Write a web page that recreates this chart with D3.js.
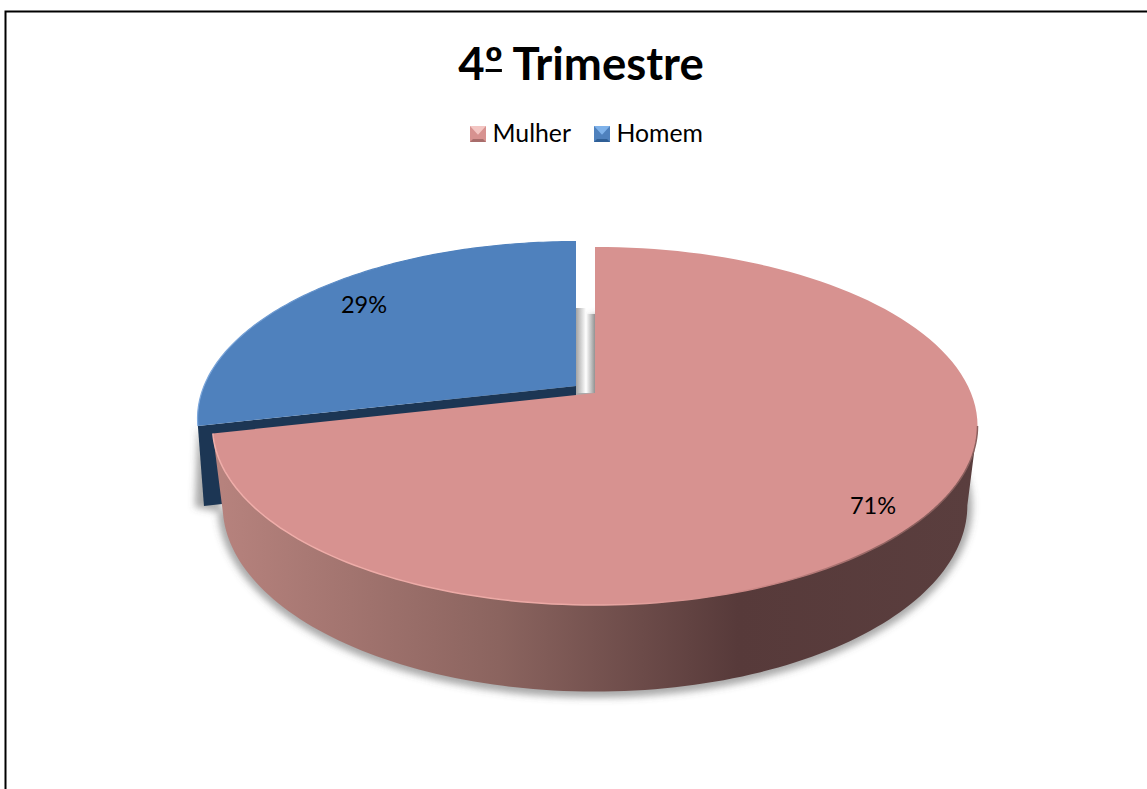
<!DOCTYPE html>
<html>
<head>
<meta charset="utf-8">
<script src="https://cdn.jsdelivr.net/npm/d3@7"></script>
<style>
  html, body { margin: 0; padding: 0; background: #fff; }
  svg { display: block; }
  text { font-family: Lato, "Open Sans", sans-serif; fill: #000; }
</style>
</head>
<body>
<div id="chart"></div>
<script>
const chartTitle = "4º Trimestre";
const categories = ["Mulher", "Homem"];
const shares = [71.4, 28.6];
const faceColors = ["#d79290", "#4f81bd"];
const wallDark = "#1c3654";
const swatchTop = ["#f3c6c3", "#7fb2ea"];
const swatchBottom = ["#a86d6b", "#2f5f96"];

const width = 1147,
  height = 789;

// perspective of the disc: k tilts it, top and bottom are the two caps
const k = 0.184,
  topCap = { B: 376, A: 173, dy: 0 },
  homemCap = { B: 372, A: 171, dy: 0 },
  bottomCap = { B: 366, A: 180, dy: 78 };

const origins = {
  Mulher: { x: 595, y: 393 },
  Homem: { x: 576, y: 386 }
};

const svg = d3
  .select("#chart")
  .append("svg")
  .attr("width", width)
  .attr("height", height);

const defs = svg.append("defs");

defs
  .append("filter")
  .attr("id", "soft")
  .attr("x", "-10%")
  .attr("y", "-10%")
  .attr("width", "120%")
  .attr("height", "120%")
  .append("feGaussianBlur")
  .attr("stdDeviation", 3.5);

function gradient(id, x1, x2, stops) {
  defs
    .append("linearGradient")
    .attr("id", id)
    .attr("gradientUnits", "userSpaceOnUse")
    .attr("x1", x1)
    .attr("x2", x2)
    .attr("y1", 0)
    .attr("y2", 0)
    .selectAll("stop")
    .data(stops)
    .enter()
    .append("stop")
    .attr("offset", d => d[0])
    .attr("stop-color", d => d[1]);
}

gradient("wall", 222, 970, [
  [0, "#b6827d"],
  [0.37, "#8b645f"],
  [0.69, "#573a3a"],
  [1, "#5a3e3e"]
]);
gradient("rim", 216, 978, [
  [0, "#f0aeaa"],
  [0.5, "#eba8a4"],
  [0.72, "#c98583"],
  [0.9, "#8a5f5d"],
  [1, "#8a5f5d"]
]);
gradient("homemRim", 197, 400, [
  [0, "#7ea8dc"],
  [1, "#4f81bd"]
]);
gradient("gapLeft", origins.Homem.x, origins.Homem.x + 10, [
  [0, "#a3a3a3"],
  [1, "#fff"]
]);
gradient("gapRight", origins.Mulher.x - 9, origins.Mulher.x, [
  [0, "#fff"],
  [1, "#929292"]
]);

function project(t, origin, cap) {
  const w = 1 + k * Math.cos(t);
  return [
    origin.x + (cap.B * Math.sin(t)) / w,
    origin.y + cap.dy - (cap.A * Math.cos(t)) / w
  ];
}

function arcPoints(t0, t1, origin, cap) {
  const n = 120;
  return d3.range(n + 1).map(i => project(t0 + ((t1 - t0) * i) / n, origin, cap));
}

const path = d3.line();

const pie = d3.pie().sort(null);
const slices = pie(shares);
const mulher = slices[0],
  homem = slices[1];

const extremeRight = Math.acos(-k);

// soft shadow under the walls
const shadow = svg.append("g").attr("filter", "url(#soft)");
const grown = { B: bottomCap.B + 5, A: bottomCap.A + 5, dy: bottomCap.dy };
shadow
  .append("path")
  .attr("d", path(arcPoints(mulher.startAngle, mulher.endAngle, origins.Mulher, grown)) + "Z")
  .attr("fill", "#555")
  .attr("opacity", 0.5);
const homemShadow = { B: bottomCap.B + 4, A: bottomCap.A, dy: bottomCap.dy + 1 };
shadow
  .append("path")
  .attr("d", path([
    project(homem.startAngle, origins.Homem, homemCap),
    project(homem.startAngle, { x: origins.Homem.x - 5, y: origins.Homem.y }, homemShadow),
    project(homem.startAngle, origins.Mulher, bottomCap)
  ]) + "Z")
  .attr("fill", "#555")
  .attr("opacity", 0.5);

// Homem: cut wall, then face
svg
  .append("path")
  .attr("d", path([
    project(homem.startAngle, origins.Homem, homemCap),
    project(homem.startAngle, origins.Homem, bottomCap),
    [origins.Homem.x, origins.Homem.y + bottomCap.dy],
    [origins.Homem.x, origins.Homem.y]
  ]) + "Z")
  .attr("fill", wallDark);

svg
  .append("path")
  .attr("d", path([
    [origins.Homem.x, origins.Homem.y],
    ...arcPoints(homem.startAngle, homem.endAngle, origins.Homem, homemCap)
  ]) + "Z")
  .attr("fill", faceColors[1]);

svg
  .append("path")
  .attr("d", path(arcPoints(homem.startAngle, homem.endAngle, origins.Homem, homemCap)))
  .attr("fill", "none")
  .attr("stroke", "url(#homemRim)")
  .attr("stroke-width", 1.2);

// shadows seen through the gap between the slices
svg
  .append("rect")
  .attr("x", origins.Homem.x)
  .attr("y", origins.Homem.y - 78)
  .attr("width", 10)
  .attr("height", 85)
  .attr("fill", "url(#gapLeft)");
svg
  .append("rect")
  .attr("x", origins.Mulher.x - 9)
  .attr("y", origins.Mulher.y - 79)
  .attr("width", 9)
  .attr("height", 79)
  .attr("fill", "url(#gapRight)");

// Mulher: outer wall, then face and rim
const wallTop = arcPoints(extremeRight, mulher.endAngle, origins.Mulher, topCap);
const wallBottom = arcPoints(extremeRight, mulher.endAngle, origins.Mulher, bottomCap);
svg
  .append("path")
  .attr("d", path(wallTop.concat(wallBottom.reverse())) + "Z")
  .attr("fill", "url(#wall)");

svg
  .append("path")
  .attr("d", path([
    [origins.Mulher.x, origins.Mulher.y],
    ...arcPoints(mulher.startAngle, mulher.endAngle, origins.Mulher, topCap)
  ]) + "Z")
  .attr("fill", faceColors[0]);

svg
  .append("path")
  .attr("d", path(arcPoints(extremeRight, mulher.endAngle, origins.Mulher, topCap)))
  .attr("fill", "none")
  .attr("stroke", "url(#rim)")
  .attr("stroke-width", 1.5);

// percent labels
const labelAt = [
  [873, 506],
  [364, 305]
];
svg
  .selectAll(".pct")
  .data(slices)
  .enter()
  .append("text")
  .attr("class", "pct")
  .attr("x", (d, i) => labelAt[i][0])
  .attr("y", (d, i) => labelAt[i][1])
  .attr("dy", "0.35em")
  .attr("text-anchor", "middle")
  .style("font-size", "23.5px")
  .text(d => Math.round(d.data) + "%");

// title
const title = svg
  .append("text")
  .attr("x", 581)
  .attr("y", 80)
  .attr("text-anchor", "middle")
  .style("font-size", "45.5px")
  .style("font-weight", "700")
  .text(chartTitle);

// the ordinal sign is underlined in the original
const ordinalStart = title.node().getStartPositionOfChar(1).x,
  ordinalEnd = title.node().getEndPositionOfChar(1).x;
svg
  .append("rect")
  .attr("x", ordinalStart + 1)
  .attr("y", 69)
  .attr("width", ordinalEnd - ordinalStart - 2)
  .attr("height", 3);

// legend, pyramid bevel swatches
const legendX = [470, 594],
  legendY = 126,
  box = 16;
const legend = svg
  .selectAll(".legend")
  .data(categories)
  .enter()
  .append("g")
  .attr("class", "legend")
  .attr("transform", (d, i) => `translate(${legendX[i]},${legendY})`);

legend
  .append("rect")
  .attr("width", box)
  .attr("height", box)
  .attr("fill", (d, i) => faceColors[i]);
legend
  .append("path")
  .attr("d", path([[0, 0], [box, 0], [box / 2, box * 0.55]]) + "Z")
  .attr("fill", (d, i) => swatchTop[i]);
legend
  .append("path")
  .attr("d", path([[0, box], [box, box], [box - 3, box - 3], [3, box - 3]]) + "Z")
  .attr("fill", (d, i) => swatchBottom[i]);
legend
  .append("text")
  .attr("x", box + 6.5)
  .attr("y", 16)
  .style("font-size", "24.8px")
  .text(d => d);

// frame, cut off by the window on the right and bottom
svg
  .append("path")
  .attr("d", `M5.5,${height}V11.5H${width}`)
  .attr("fill", "none")
  .attr("stroke", "#000")
  .attr("stroke-width", 2);
</script>
</body>
</html>
